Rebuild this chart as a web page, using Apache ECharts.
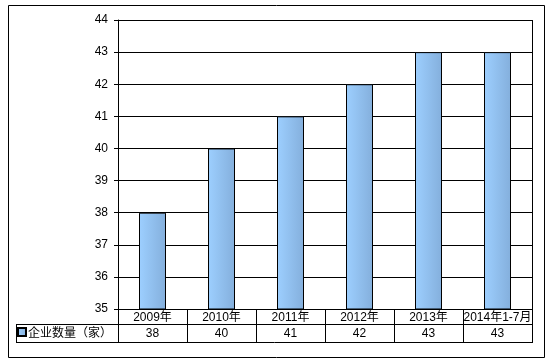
<!DOCTYPE html>
<html><head><meta charset="utf-8">
<script src="https://cdn.jsdelivr.net/npm/echarts@6/dist/echarts.min.js"></script>
<style>html,body{margin:0;padding:0;background:#fff}#c{width:550px;height:361px}</style>
</head><body><div id="c"></div>
<script>
const categories = ['2009年','2010年','2011年','2012年','2013年','2014年1-7月'];
const values = [38, 40, 41, 42, 43, 43];
const seriesName = '企业数量（家）';
const yMin = 35, yMax = 44, yStep = 1;

const chart = echarts.init(document.getElementById('c'), null, {renderer:'canvas'});
const font = "'Liberation Sans', Arial, 'Noto Sans CJK SC', sans-serif";
const black = '#000';
chart.setOption({
  animation:false,
  backgroundColor:'#fff',
  grid:{left:118, right:18, top:20, bottom:52},
  legend:{
    show:true, data:[seriesName], left:17, top:326, itemWidth:8, itemHeight:8, icon:'rect',
    itemGap:2, padding:0,
    textStyle:{fontSize:12, color:black, fontFamily:"'Noto Sans CJK SC', sans-serif", padding:[0,0,0,-3]}
  },
  xAxis:[{
    type:'category', data:categories, position:'bottom',
    axisLine:{show:true, lineStyle:{color:black, width:1}},
    axisTick:{show:true, length:33, lineStyle:{color:black, width:1}},
    axisLabel:{interval:0, margin:3, fontSize:12, color:black, fontFamily:font},
    splitLine:{show:false}
  },{
    type:'category', data:categories, position:'bottom', offset:16,
    axisLine:{show:false}, axisTick:{show:false},
    axisLabel:{interval:0, margin:3, fontSize:12, color:black, fontFamily:font,
      formatter:(v, i) => String(values[i])}
  }],
  yAxis:{
    type:'value', min:yMin, max:yMax, interval:yStep,
    axisLine:{show:true, lineStyle:{color:black, width:1}},
    axisTick:{show:true, length:4, lineStyle:{color:black}},
    axisLabel:{margin:10, fontSize:12, color:black, fontFamily:font},
    splitLine:{show:true, lineStyle:{color:black, width:1}}
  },
  series:[{
    name:seriesName, type:'bar', data:values, barWidth:27,
    itemStyle:{
      color:new echarts.graphic.LinearGradient(0,0,1,0,[{offset:0,color:'#9DCFFF'},{offset:1,color:'#84AFDC'}]),
      borderColor:black, borderWidth:1
    }
  }],
  graphic:[
    {type:'rect', shape:{x:8.5, y:5.5, width:536, height:352}, style:{fill:null, stroke:black, lineWidth:1}, silent:true},
    {type:'line', shape:{x1:16, y1:324.5, x2:532, y2:324.5}, style:{stroke:black, lineWidth:1}},
    {type:'line', shape:{x1:16, y1:342.5, x2:533, y2:342.5}, style:{stroke:black, lineWidth:1}},
    {type:'line', shape:{x1:16.5, y1:324, x2:16.5, y2:343}, style:{stroke:black, lineWidth:1}},
    {type:'line', shape:{x1:532.5, y1:20, x2:532.5, y2:343}, style:{stroke:black, lineWidth:1}}
  ]
});
</script></body></html>
